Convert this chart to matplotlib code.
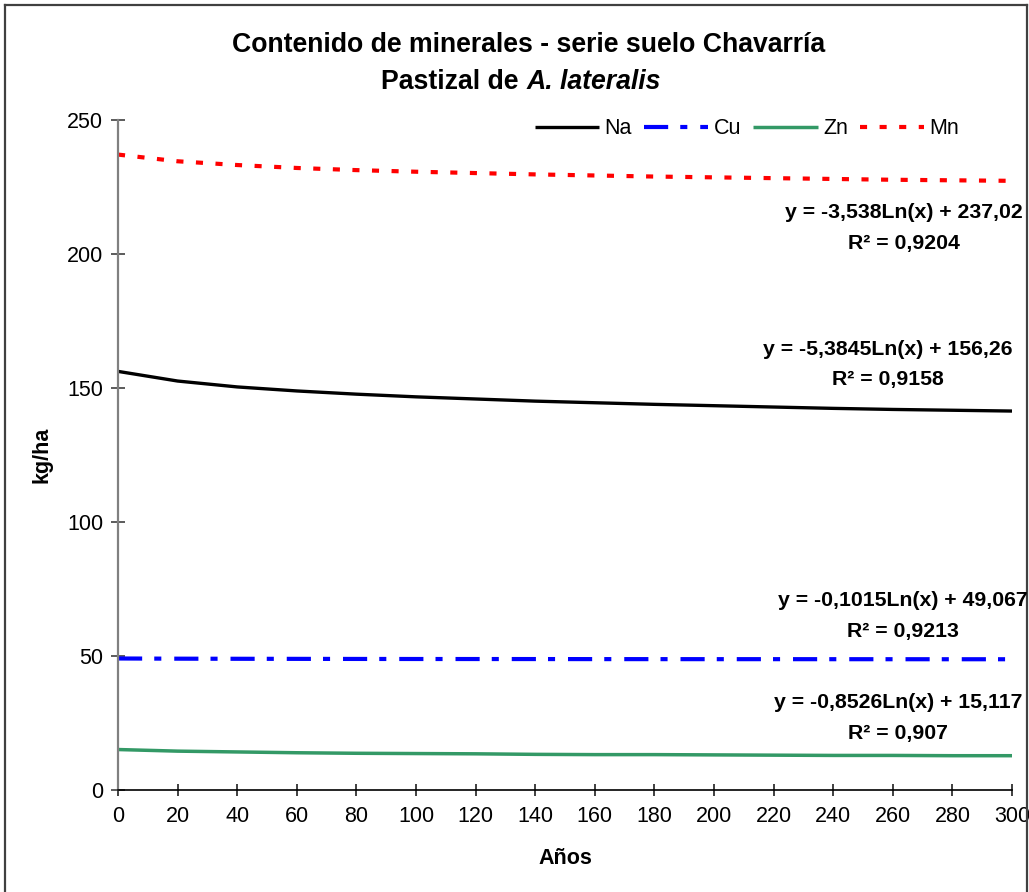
import matplotlib
matplotlib.use("Agg")
import matplotlib.pyplot as plt
from matplotlib.lines import Line2D

plt.rcParams['font.family'] = ['Liberation Sans', 'DejaVu Sans']

# Years sampled along the horizontal axis
years = [0, 20, 40, 60, 80, 100, 120, 140, 160, 180, 200, 220, 240, 260, 280, 300]

# Mineral content (kg/ha) per series
na = [156.2, 152.6, 150.4, 148.9, 147.7, 146.7, 145.9, 145.1, 144.5, 143.9,
      143.4, 142.9, 142.4, 142.0, 141.7, 141.4]
cu = [49.07, 49.00, 48.96, 48.93, 48.90, 48.88, 48.87, 48.86, 48.84, 48.83,
      48.82, 48.82, 48.81, 48.80, 48.79, 48.79]
zn = [15.1, 14.5, 14.2, 13.9, 13.7, 13.6, 13.5, 13.3, 13.2, 13.2,
      13.1, 13.0, 12.9, 12.9, 12.8, 12.8]
mn = [237.1, 234.6, 233.2, 232.1, 231.3, 230.7, 230.2, 229.7, 229.3, 228.9,
      228.6, 228.3, 228.0, 227.7, 227.5, 227.3]

series_names = ["Na", "Cu", "Zn", "Mn"]
equations = ["y = -5,3845Ln(x) + 156,26", "y = -0,1015Ln(x) + 49,067",
             "y = -0,8526Ln(x) + 15,117", "y = -3,538Ln(x) + 237,02"]
r2_values = ["0,9158", "0,9213", "0,907", "0,9204"]

x_ticks = list(range(0, 301, 20))
y_ticks = [0, 50, 100, 150, 200, 250]

W, H = 1029, 892
fig = plt.figure(figsize=(W / 100, H / 100), dpi=100)
fig.patch.set_facecolor("white")

ax = fig.add_axes([118 / W, 1 - 790 / H, (1012 - 118) / W, (790 - 120) / H])
ax.set_xlim(0, 300)
ax.set_ylim(0, 250)

ax.plot(years, na, color="black", lw=2.4, solid_capstyle="butt", label="Na")
ax.plot(years, cu, color="#0000FF", lw=3.0, dashes=(5.8, 2.9, 1.7, 3.1),
        dash_capstyle="butt", label="Cu")
ax.plot(years, zn, color="#339966", lw=2.5, solid_capstyle="butt", label="Zn")
ax.plot(years, mn, color="#FF0000", lw=3.0, dashes=(1.7, 3.0),
        dash_capstyle="butt", label="Mn")

# Axes styling
for s in ("top", "right"):
    ax.spines[s].set_visible(False)
ax.spines["left"].set_color("#808080")
ax.spines["left"].set_linewidth(1.6)
ax.spines["bottom"].set_color("black")
ax.spines["bottom"].set_linewidth(1.2)

ax.set_xticks(x_ticks)
ax.set_yticks(y_ticks)
ax.tick_params(axis="y", direction="inout", length=9.5, width=1.2,
               color="#404040", labelsize=15.5, pad=6)
ax.tick_params(axis="x", direction="inout", length=9, width=1.2,
               color="#202020", labelsize=15.5, pad=7)

ax.set_ylabel("kg/ha", fontsize=15.5, fontweight="bold")
ax.yaxis.set_label_coords((42 - 118) / 894, 0.5)
ax.set_xlabel("Años", fontsize=15.5, fontweight="bold")
ax.xaxis.set_label_coords(0.5, (790 - 858) / 670)
ax.xaxis.label.set_va("center")
ax.yaxis.label.set_va("center")

# Legend
ax.legend(ncol=4, frameon=False, fontsize=15.5, handlelength=3.0,
          handletextpad=0.25, columnspacing=0.55, loc="center",
          bbox_to_anchor=(747 / W, 1 - 129 / H), bbox_transform=fig.transFigure,
          borderaxespad=0)

# Trend equations: equation line and R² line, each centred on the same x
eq_pos = {"Na": (888, 349), "Cu": (903, 601), "Zn": (898, 703), "Mn": (904, 212)}
for name, eq, r2 in zip(series_names, equations, r2_values):
    cx, cy = eq_pos[name]
    fig.text(cx / W, 1 - cy / H, eq, ha="center", va="center",
             fontsize=15.3, fontweight="bold", zorder=5)
    fig.text(cx / W, 1 - (cy + 31) / H, f"R² = {r2}", ha="center", va="center",
             fontsize=15.3, fontweight="bold", zorder=5)

# Title
fig.text(529 / W, 1 - 45 / H, "Contenido de minerales - serie suelo Chavarría",
         ha="center", va="center", fontsize=19.2, fontweight="bold")
t1 = fig.text(0, 1 - 82 / H, "Pastizal de ", ha="left", va="center",
              fontsize=19.2, fontweight="bold")
t2 = fig.text(0, 1 - 82 / H, "A. lateralis", ha="left", va="center",
              fontsize=19.2, fontweight="bold", fontstyle="italic")
renderer = fig.canvas.get_renderer()
w1 = t1.get_window_extent(renderer).width
w2 = t2.get_window_extent(renderer).width
x0 = 521 - (w1 + w2) / 2
t1.set_x(x0 / W)
t2.set_x((x0 + w1) / W)

# Chart area border
border_kw = dict(color="#404040", lw=1.6, transform=fig.transFigure, zorder=1)
fig.add_artist(Line2D([5 / W, 5 / W], [0, 1 - 5 / H], **border_kw))
fig.add_artist(Line2D([5 / W, 1027 / W], [1 - 5 / H, 1 - 5 / H], **border_kw))
fig.add_artist(Line2D([1027 / W, 1027 / W], [0, 1 - 5 / H], **border_kw))

fig.savefig("out.png", dpi=100, facecolor="white")
